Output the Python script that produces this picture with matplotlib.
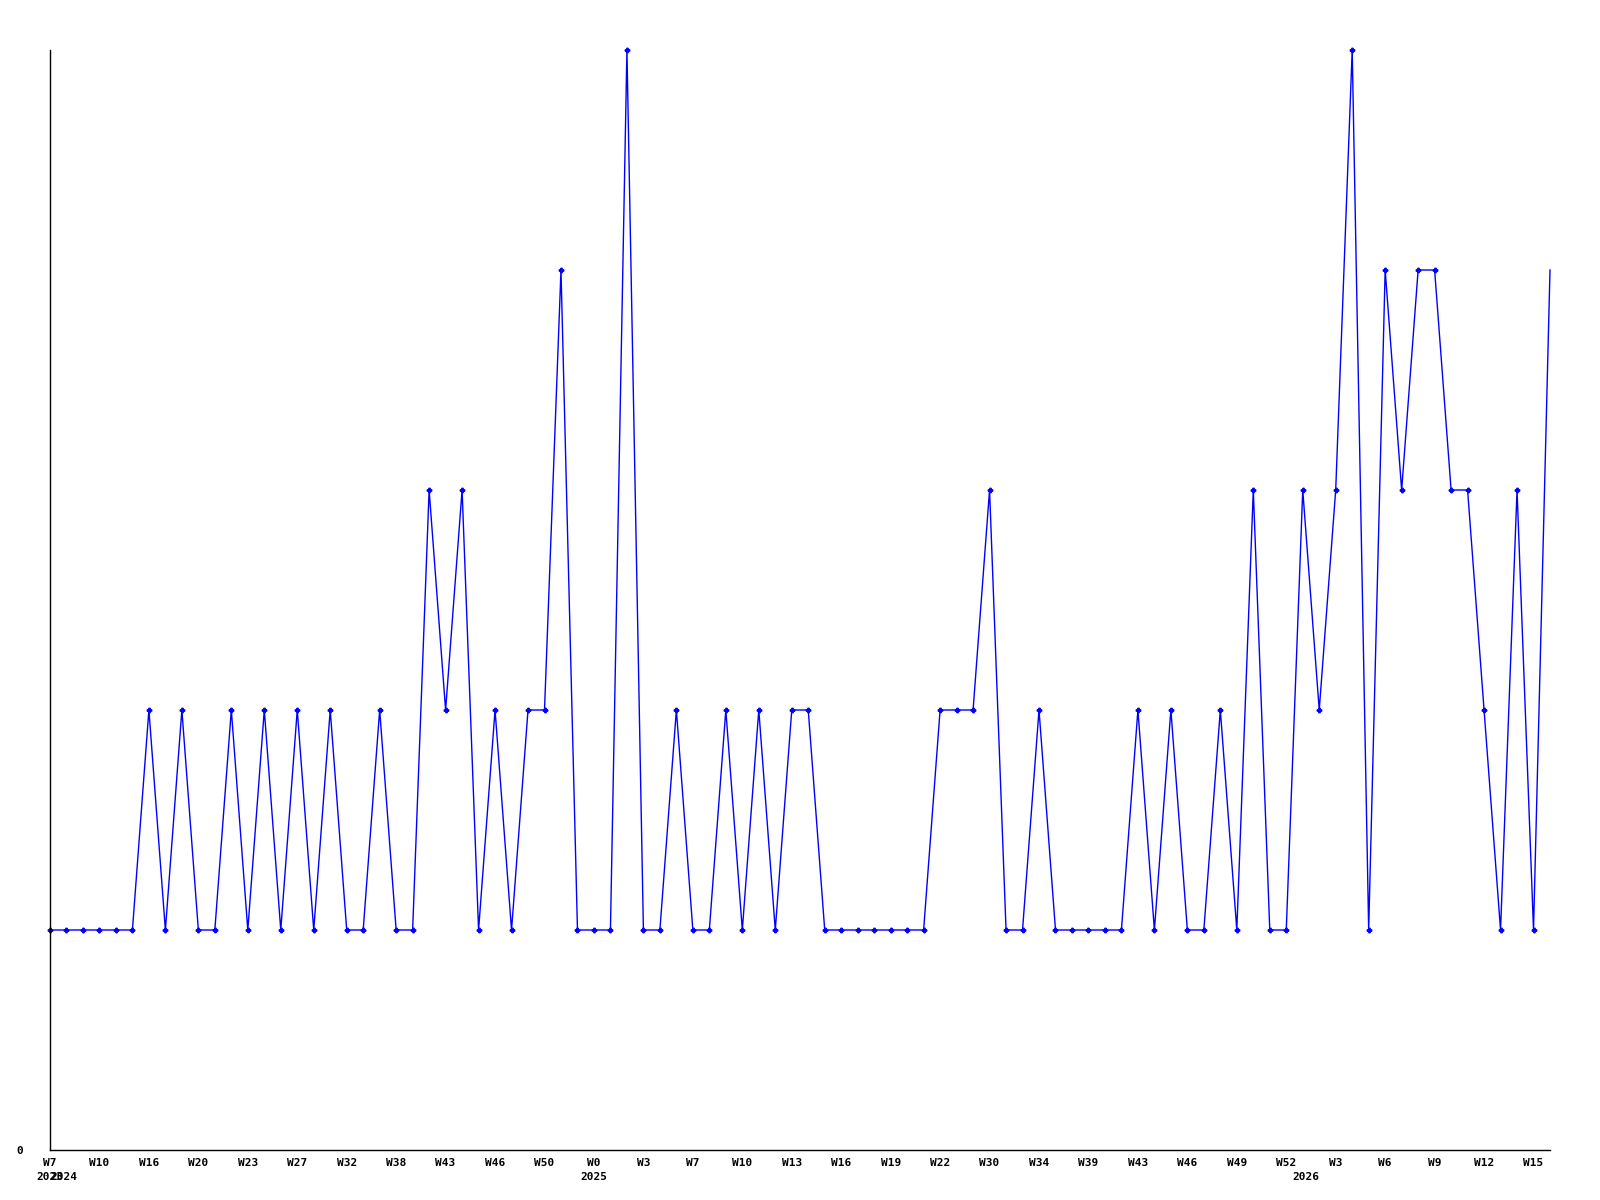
import matplotlib
matplotlib.use('Agg')
import matplotlib.pyplot as plt
from matplotlib.transforms import blended_transform_factory

# weekly counts, one point per week
counts = [1, 1, 1, 1, 1, 1, 2, 1, 2, 1, 1, 2, 1, 2, 1, 2, 1, 2, 1, 1,
          2, 1, 1, 3, 2, 3, 1, 2, 1, 2, 2, 4, 1, 1, 1, 5, 1, 1, 2, 1,
          1, 2, 1, 2, 1, 2, 2, 1, 1, 1, 1, 1, 1, 1, 2, 2, 2, 3, 1, 1,
          2, 1, 1, 1, 1, 1, 2, 1, 2, 1, 1, 2, 1, 3, 1, 1, 3, 2, 3, 5,
          1, 4, 3, 4, 4, 3, 3, 2, 1, 3, 1, 4]

# label shown every third week
week_labels = ['W7', 'W10', 'W16', 'W20', 'W23', 'W27', 'W32', 'W38', 'W43', 'W46',
               'W50', 'W0', 'W3', 'W7', 'W10', 'W13', 'W16', 'W19', 'W22', 'W30',
               'W34', 'W39', 'W43', 'W46', 'W49', 'W52', 'W3', 'W6', 'W9', 'W12', 'W15']

years = ['2023', '2024', '2025', '2026']
year_x = [-0.8, 0.05, 32.2, 75.4]

font = dict(family='DejaVu Sans Mono', weight='bold', size=8)

fig = plt.figure(figsize=(16, 12), dpi=100)
ax = fig.add_axes([50 / 1600, 50 / 1200, 1500 / 1600, 1100 / 1200])

x = list(range(len(counts)))
ax.plot(x, counts, color='#0000ff', linewidth=1, marker='P', markersize=3.2,
        markevery=list(range(len(counts) - 1)), clip_on=False)

ax.set_xlim(0, len(counts) - 1)
ax.set_ylim(0, 5)

for s in ['top', 'right']:
    ax.spines[s].set_visible(False)
for s in ['left', 'bottom']:
    ax.spines[s].set_color('black')
    ax.spines[s].set_linewidth(1)

ax.set_xticks(list(range(0, len(counts), 3)))
ax.set_xticklabels(week_labels, **font)
ax.tick_params(axis='x', length=0, pad=6)
ax.set_yticks([0])
ax.set_yticklabels(['0'], **font)
ax.tick_params(axis='y', length=0, pad=19)

trans = blended_transform_factory(ax.transData, fig.transFigure)
for label, xp in zip(years, year_x):
    ax.text(xp, 1 - 1182 / 1200, label, transform=trans, ha='left', va='bottom', **font)

fig.savefig('out.png', dpi=100, facecolor='white')
